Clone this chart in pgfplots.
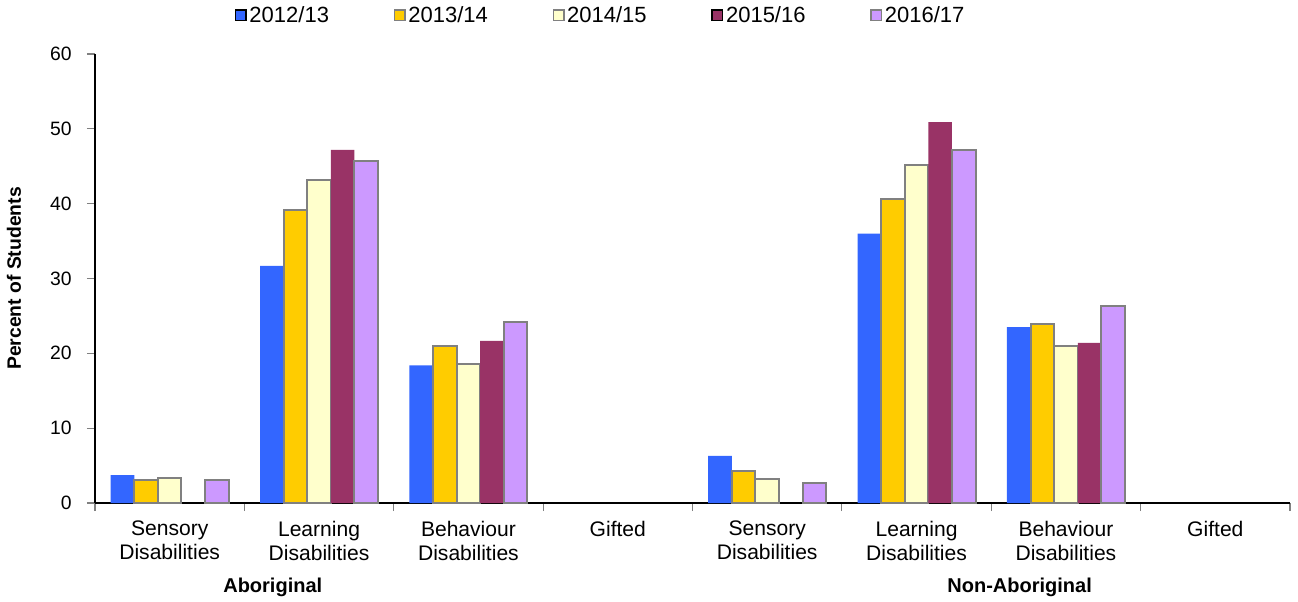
\documentclass[border=0pt]{standalone}
\usepackage{pgfplots}
\pgfplotsset{compat=1.18}
\usepackage{fontspec}
\setmainfont{Liberation Sans}
\usetikzlibrary{calc}
\definecolor{cA}{HTML}{3366FF}
\definecolor{cB}{HTML}{FFCC00}
\definecolor{cC}{HTML}{FFFFCC}
\definecolor{cD}{HTML}{993366}
\definecolor{cE}{HTML}{CC99FF}
\definecolor{bord}{HTML}{808080}
\begin{document}
\begin{tikzpicture}[font=\fontsize{14.5}{16}\selectfont]
\begin{axis}[
  name=ax,
  clip=false,
  scale only axis,
  width=896.25pt, height=336.75pt,
  xmin=-0.5, xmax=7.5,
  ymin=0, ymax=60,
  ytick={0,10,...,60},
  axis x line*=bottom, axis y line*=left,
  axis line style={black, line width=0.8pt, -},
  ybar=0pt, bar width=0.158,
  xtick={-0.5,0.5,...,7.5},
  xticklabels={},
  x tick style={bord, line width=0.8pt},
  xtick align=outside,
  major tick length=6pt,
  y tick style={bord, line width=0.8pt},
  ytick align=outside,
  yticklabel style={xshift=-8pt},
  /pgf/number format/assume math mode=true,
  extra x ticks={0,1,2,3,4,5,6,7},
  extra x tick labels={Sensory\\Disabilities,Learning\\Disabilities,Behaviour\\Disabilities,Gifted,Sensory\\Disabilities,Learning\\Disabilities,Behaviour\\Disabilities,Gifted},
  extra x tick style={major tick length=0pt, tick style={draw=none}, xticklabel style={align=center, yshift=-10pt, font=\fontsize{15.8}{18}\selectfont}},
  ylabel={\bfseries Percent of Students},
  ylabel style={yshift=15pt, font=\fontsize{14.5}{16}\selectfont},
  legend style={draw=none, fill=none, at={(0.4234,1)}, anchor=south, yshift=18pt,
    legend columns=5, font=\fontsize{16.5}{18}\selectfont,
    /tikz/every even column/.append style={column sep=46.5pt}},
  legend image code/.code={\draw[#1, line width=1pt] (0pt,-4pt) rectangle (8pt,4pt);},
  legend cell align=left,
]
\addplot[fill=cA, draw=none] coordinates {(0,3.74) (1,31.7) (2,18.4) (4,6.3) (5,36.0) (6,23.5)};
\addplot[fill=cB, draw=bord, line width=1.5pt] coordinates {(0,3.07) (1,39.15) (2,21.0) (4,4.3) (5,40.6) (6,23.9)};
\addplot[fill=cC, draw=bord, line width=1.5pt] coordinates {(0,3.4) (1,43.2) (2,18.6) (4,3.2) (5,45.2) (6,21.0)};
\addplot[fill=cD, draw=none] coordinates {(1,47.2) (2,21.65) (5,50.9) (6,21.4)};
\addplot[fill=cE, draw=bord, line width=1.5pt] coordinates {(0,3.1) (1,45.7) (2,24.2) (4,2.7) (5,47.2) (6,26.3)};
\legend{2012/13,2013/14,2014/15,2015/16,2016/17}
\node[font=\fontsize{15}{16}\selectfont\bfseries] at (axis cs:0.69,0) [yshift=-63pt] {Aboriginal};
\node[font=\fontsize{15}{16}\selectfont\bfseries] at (axis cs:5.69,0) [yshift=-63pt] {Non-Aboriginal};
\end{axis}
\pgfresetboundingbox
\useasboundingbox ($(ax.south west)+(-71.25pt,-73.5pt)$) rectangle ($(ax.north east)+(6pt,40.5pt)$);
\end{tikzpicture}
\end{document}
